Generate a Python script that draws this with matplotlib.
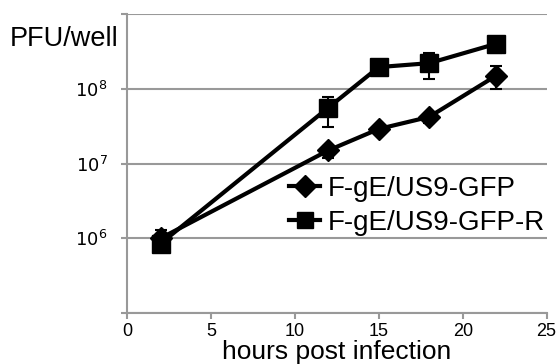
import matplotlib
matplotlib.use("AGG")
import matplotlib.pyplot as plt
from matplotlib.lines import Line2D
import numpy as np

plt.rcParams['font.family'] = ['Liberation Sans', 'DejaVu Sans']

hours = [2, 12, 15, 18, 22]

# F-gE/US9-GFP (diamonds)
gfp = [1.0e6, 1.5e7, 2.9e7, 4.2e7, 1.5e8]
gfp_lo = [0.85e6, 1.2e7, 2.6e7, 3.5e7, 1.0e8]
gfp_hi = [1.3e6, 1.7e7, 3.1e7, 4.6e7, 2.0e8]

# F-gE/US9-GFP-R (squares)
gfpr = [8.5e5, 5.6e7, 1.95e8, 2.2e8, 4.0e8]
gfpr_lo = [7.5e5, 3.1e7, 1.8e8, 1.35e8, 3.0e8]
gfpr_hi = [1.0e6, 7.8e7, 2.1e8, 3.0e8, 4.6e8]

fig = plt.figure(figsize=(5.58, 3.64), dpi=100)
ax = fig.add_axes([0.2276, 0.140, 0.752, 0.8215])

grey = '#999999'

def err(v, lo, hi):
    v = np.array(v); return [v - np.array(lo), np.array(hi) - v]

ax.errorbar(hours, gfp, yerr=err(gfp, gfp_lo, gfp_hi), color='black', lw=3,
            marker='D', ms=11, capsize=4, elinewidth=1.5, capthick=1.5, zorder=3)
ax.errorbar(hours, gfpr, yerr=err(gfpr, gfpr_lo, gfpr_hi), color='black', lw=3,
            marker='s', ms=13, capsize=4, elinewidth=1.5, capthick=1.5, zorder=3)

ax.set_yscale('log')
ax.set_ylim(1e5, 1e9)
ax.set_xlim(0, 25)
ax.set_xticks([0, 5, 10, 15, 20, 25])
ax.set_yticks([1e5, 1e6, 1e7, 1e8, 1e9])
ax.set_yticklabels(['', '$10^6$', '$10^7$', '$10^8$', ''])
ax.yaxis.set_minor_locator(matplotlib.ticker.NullLocator())
ax.grid(axis='y', color=grey, lw=1.5)
ax.set_axisbelow(True)
for s in ['top', 'right']:
    ax.spines[s].set_visible(False)
for s in ['left', 'bottom']:
    ax.spines[s].set_color(grey)
    ax.spines[s].set_linewidth(1.5)
ax.tick_params(axis='both', colors=grey, width=1.5, length=4, labelcolor='black',
               labelsize=13)
ax.tick_params(axis='y', pad=10)
ax.set_xlabel('hours post infection', fontsize=19, labelpad=0)
fig.text(0.018, 0.875, 'PFU/well', fontsize=19.5)

handles = [Line2D([], [], color='black', lw=3, marker='D', ms=11),
           Line2D([], [], color='black', lw=3, marker='s', ms=11)]
ax.legend(handles, ['F-gE/US9-GFP', 'F-gE/US9-GFP-R'], loc='lower right',
          bbox_to_anchor=(1.037, 0.202), frameon=False, fontsize=20,
          handlelength=1.1, handletextpad=0.3, labelspacing=0.28, borderpad=0.1)

fig.savefig('out.png', dpi=100)
